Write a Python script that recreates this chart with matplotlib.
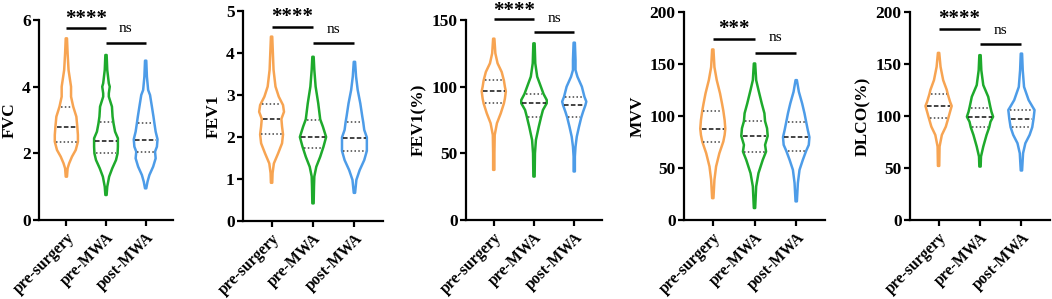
import numpy as np
import matplotlib
matplotlib.use("Agg")
import matplotlib.pyplot as plt

groups = ["pre-surgery", "pre-MWA", "post-MWA"]
colors = ["#F7A452", "#1EAA2C", "#4D9CE8"]

# ---- violin outlines: value grid (y) and relative density (w) per group ----
FVC_y = [[5.45, 5.0, 4.5, 4.0, 3.7, 3.4, 3.1, 2.8, 2.55, 2.35, 2.1, 1.9, 1.7, 1.55, 1.3],
         [4.95, 4.5, 4.1, 4.0, 3.8, 3.7, 3.4, 3.1, 2.9, 2.65, 2.45, 2.2, 2.0, 1.8, 1.55, 1.3, 1.0, 0.75],
         [4.78, 4.3, 3.9, 3.75, 3.4, 3.1, 2.9, 2.65, 2.42, 2.2, 2.05, 1.85, 1.6, 1.35, 1.15, 0.95]]
FVC_w = [[2, 4, 7, 15, 15, 22, 32, 35, 37, 37, 30, 18, 9, 4, 2],
         [2, 4, 9, 12, 9, 9, 19, 21, 24, 29, 38, 38, 37, 32, 20, 10, 4, 2],
         [2, 4, 8, 14, 20, 25, 28, 32, 38, 36, 30, 32, 24, 12, 6, 2]]
FVC_q1 = [2.35, 2.00, 2.05]
FVC_med = [2.80, 2.38, 2.40]
FVC_q3 = [3.40, 2.93, 2.90]

FEV1_y = [[4.39, 3.99, 3.6, 3.2, 2.96, 2.76, 2.6, 2.43, 2.25, 2.06, 1.85, 1.61, 1.37, 1.14, 0.91],
          [3.91, 3.6, 3.2, 2.8, 2.42, 2.25, 2.0, 1.77, 1.53, 1.29, 1.06, 0.82, 0.42],
          [3.79, 3.44, 3.12, 2.8, 2.49, 2.35, 2.17, 1.99, 1.81, 1.67, 1.45, 1.21, 0.98, 0.67]]
FEV1_w = [[2, 4, 6, 12, 22, 35, 38, 30, 32, 35, 32, 20, 7, 3, 2],
          [2, 4, 8, 16, 22, 30, 40, 32, 22, 10, 4, 3, 2],
          [2, 5, 10, 18, 24, 27, 30, 38, 38, 38, 30, 16, 6, 2]]
FEV1_q1 = [2.06, 1.74, 1.67]
FEV1_med = [2.42, 2.00, 1.98]
FEV1_q3 = [2.78, 2.41, 2.35]

FEV1P_y = [[136, 125, 117.5, 111, 104.5, 100, 96.5, 91, 87.5, 80, 72.6, 63.8, 50, 37.6],
           [132.5, 117.5, 107.5, 101, 94.5, 90, 87.6, 82.5, 77, 70, 60, 50, 32.6],
           [133, 120, 112.5, 107.5, 100, 92.5, 88.8, 86, 81.3, 76.8, 70, 62.5, 55, 47.6, 36.4]]
FEV1P_w = [[2, 5, 12, 25, 32, 35, 38, 35, 32, 22, 10, 3, 2, 2],
           [2, 4, 10, 20, 30, 40, 40, 28, 22, 15, 6, 3, 2],
           [2, 4, 4, 10, 24, 32, 38, 35, 28, 22, 15, 8, 4, 2, 2]]
FEV1P_q1 = [87.5, 77.0, 77.0]
FEV1P_med = [96.5, 87.6, 86.0]
FEV1P_q3 = [105.0, 94.5, 92.5]

MVV_y = [[164, 147, 134.5, 121.8, 112, 105, 96, 87.8, 81.8, 75.4, 64.2, 51.4, 38.6, 21],
         [150.5, 134.5, 125, 112, 102.6, 95, 88.2, 80.8, 72.2, 65.8, 57.8, 45, 32.2, 11.5],
         [134.5, 123.3, 112, 102.6, 94.5, 86.6, 79.6, 72.2, 66.4, 57.8, 48.2, 35.5, 17.9]]
MVV_w = [[2, 5, 12, 22, 28, 32, 36, 38, 36, 32, 20, 10, 5, 2],
         [2, 5, 12, 22, 30, 32, 38, 40, 32, 35, 25, 12, 5, 2],
         [2, 8, 18, 25, 30, 35, 40, 38, 30, 20, 10, 5, 2]]
MVV_q1 = [75.4, 65.8, 66.4]
MVV_med = [87.8, 80.8, 79.6]
MVV_q3 = [105.0, 95.0, 94.5]

DLCO_y = [[160.7, 147.3, 134.5, 125, 121, 113.7, 109.6, 104.1, 98.4, 89.7, 81.8, 70.6, 52],
          [158.5, 144, 129.7, 118.5, 108, 104, 99.3, 94.5, 89, 81.8, 70.6, 61, 51.4],
          [160, 144, 128, 115.3, 108.3, 105.8, 97.4, 89.2, 81.8, 73.8, 64.2, 47.6]]
DLCO_w = [[2, 6, 14, 25, 28, 35, 40, 35, 30, 22, 10, 3, 2],
          [2, 4, 10, 25, 32, 35, 40, 32, 28, 20, 10, 3, 2],
          [2, 4, 8, 22, 35, 40, 37, 33, 25, 12, 5, 2]]
DLCO_q1 = [98.4, 89.0, 89.0]
DLCO_med = [109.6, 99.3, 97.5]
DLCO_q3 = [121.0, 108.0, 106.0]

labels = ["FVC", "FEV1", "FEV1(%)", "MVV", "DLCO(%)"]
ylims = [6, 5, 150, 200, 200]
ysteps = [2, 1, 50, 50, 50]
sig_text = [["****", "ns"], ["****", "ns"], ["****", "ns"], ["***", "ns"], ["****", "ns"]]
sig_bar_y = [[5.75, 5.32], [4.63, 4.23], [150.4, 141], [174.5, 161], [184, 169]]
sig_txt_y = [[6.02, 5.73], [4.86, 4.56], [156.5, 151], [184, 175.5], [193, 182.5]]

data = [(FVC_y, FVC_w, FVC_q1, FVC_med, FVC_q3),
        (FEV1_y, FEV1_w, FEV1_q1, FEV1_med, FEV1_q3),
        (FEV1P_y, FEV1P_w, FEV1P_q1, FEV1P_med, FEV1P_q3),
        (MVV_y, MVV_w, MVV_q1, MVV_med, MVV_q3),
        (DLCO_y, DLCO_w, DLCO_q1, DLCO_med, DLCO_q3)]

# axes boxes in pixels: left, top, right, bottom
boxes = [(39, 20, 173, 220), (243, 11, 383, 221), (466, 20, 602, 220),
         (684, 12, 825, 220), (910, 12, 1050, 220)]

W, H = 1052, 299
plt.rcParams['font.family'] = ['Liberation Serif', 'DejaVu Serif']
fig = plt.figure(figsize=(W / 100, H / 100), dpi=100)

SCALE = 120.0  # relative-density units per x unit

for k in range(5):
    l, t, r, b = boxes[k]
    ax = fig.add_axes([l / W, 1 - b / H, (r - l) / W, (b - t) / H])
    ys, ws, q1s, meds, q3s = data[k]
    for g in range(3):
        y = np.array(ys[g], float)[::-1]
        w = np.array(ws[g], float)[::-1]
        stats = dict(coords=y, vals=w, mean=meds[g], median=meds[g],
                     min=y.min(), max=y.max())
        width = 2 * (w.max() - 2) / SCALE
        parts = ax.violin([stats], positions=[g], widths=[width], showmeans=False,
                          showextrema=False, showmedians=False)
        for body in parts['bodies']:
            body.set_facecolor('none')
            body.set_edgecolor(colors[g])
            body.set_linewidth(1.8)
            body.set_joinstyle('round')
            body.set_alpha(1)
        half = 0.5 * width * w / w.max()
        for q, ls, c in [(q1s[g], (0, (1, 1.5)), '#444444'),
                         (meds[g], (0, (3, 1.5)), '#111111'),
                         (q3s[g], (0, (1, 1.5)), '#444444')]:
            hw = np.interp(q, y, half) - 0.03
            ax.plot([g - hw, g + hw], [q, q], color=c, lw=1.1, linestyle=ls)
    # significance
    for j, (x0, x1) in enumerate([(0, 1), (1, 2)]):
        ax.plot([x0, x1], [sig_bar_y[k][j], sig_bar_y[k][j]], color='black', lw=1.8,
                clip_on=False, solid_capstyle='butt')
        txt = sig_text[k][j]
        if txt == 'ns':
            ax.text((x0 + x1) / 2, sig_txt_y[k][j], txt, ha='center', va='center',
                    fontsize=11, clip_on=False)
        else:
            ax.text((x0 + x1) / 2, sig_txt_y[k][j], txt, ha='center', va='center',
                    fontsize=15, fontweight='bold', clip_on=False)
    ax.set_xlim(-0.69, 2.69)
    ax.set_ylim(0, ylims[k])
    ax.set_yticks(np.arange(0, ylims[k] + 1e-9, ysteps[k]))
    ax.set_xticks([0, 1, 2])
    ax.set_xticklabels(groups, rotation=45, ha='right', rotation_mode='anchor',
                       fontsize=11.3, fontweight='bold')
    ax.set_ylabel(labels[k], fontsize=12.5, fontweight='bold', labelpad=3)
    for lab in ax.get_yticklabels():
        lab.set_fontweight('bold')
        lab.set_fontsize(12.5)
    for s in ['top', 'right']:
        ax.spines[s].set_visible(False)
    for s in ['left', 'bottom']:
        ax.spines[s].set_linewidth(1.6)
    ax.tick_params(axis='y', width=1.6, length=4, pad=2)
    ax.tick_params(axis='x', width=1.6, length=4, pad=3)
    ax.patch.set_alpha(0)

fig.savefig("out.png", dpi=100)
